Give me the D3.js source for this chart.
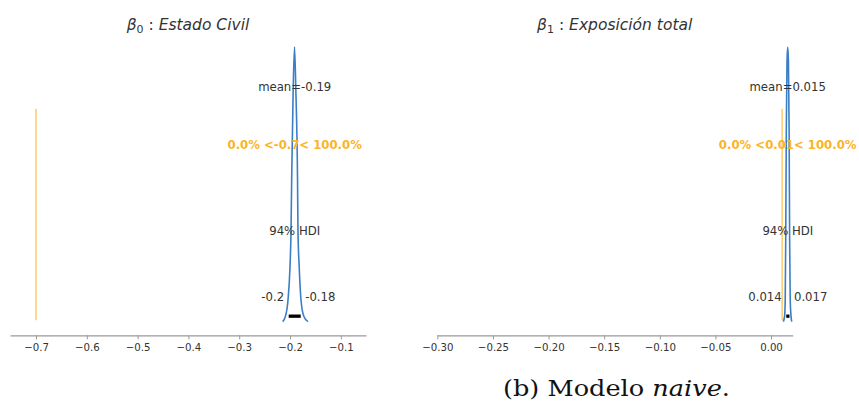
<!DOCTYPE html>
<html>
<head>
<meta charset="utf-8">
<script src="https://cdn.jsdelivr.net/npm/d3@7"></script>
<style>
  body { margin: 0; background: #fff; }
  svg { display: block; font-family: "DejaVu Sans", sans-serif; }
</style>
</head>
<body>
<svg id="chart" width="859" height="404"></svg>
<script>
// Panel titles (symbol, subscript, label)
const titleSymbols = ["β", "β"];
const titleSubs = ["0", "1"];
const titleLabels = ["Estado Civil", "Exposición total"];

// Posterior KDE for β0 (Estado Civil), density relative to its peak
const estadoX = [-0.2144, -0.2089, -0.2039, -0.2000, -0.1980, -0.1967, -0.1937, -0.1911,
                 -0.1886, -0.1852, -0.1843, -0.1819, -0.1784, -0.1728, -0.1646];
const estadoDensity = [0.0, 0.02, 0.08, 0.2, 0.33, 0.52, 0.85, 1.0,
                       0.85, 0.52, 0.33, 0.2, 0.08, 0.02, 0.0];

// Posterior KDE for β1 (Exposición total)
const exposX = [0.01106, 0.01223, 0.01277, 0.01322, 0.01376, 0.01439, 0.01502,
                0.01565, 0.01628, 0.01673, 0.01727, 0.01799, 0.01862];
const exposDensity = [0.0, 0.02, 0.08, 0.3, 0.7, 0.95, 1.0,
                      0.95, 0.7, 0.3, 0.08, 0.02, 0.0];

const meanValues = [-0.1907, 0.01500];
const meanLabels = ["mean=-0.19", "mean=0.015"];
const hdiLow = [-0.2026, 0.0137];
const hdiHigh = [-0.1789, 0.0166];
const hdiLowLabels = ["-0.2", "0.014"];
const hdiHighLabels = ["-0.18", "0.017"];
const refValues = [-0.7, 0.01];
const refLabels = ["0.0% <-0.7< 100.0%", "0.0% <0.01< 100.0%"];

const ticksLeft = [-0.7, -0.6, -0.5, -0.4, -0.3, -0.2, -0.1];
const ticksRight = [-0.30, -0.25, -0.20, -0.15, -0.10, -0.05, 0.00];
const xDomains = [[-0.7512, -0.0504], [-0.3006, 0.0195]];

const caption = ["(b) Modelo ", "naive", "."];

const blue = "#3c7ec6";
const orange = "#fbb425";
const textColor = "#333";

const svg = d3.select("#chart");

const panels = [
  { x: estadoX, d: estadoDensity, ticks: ticksLeft, fmt: d3.format(".1f"), left: 10 },
  { x: exposX, d: exposDensity, ticks: ticksRight, fmt: d3.format(".2f"), left: 436.7 },
];

const axW = 356, axTop = 33.3, axBottom = 335.4;

panels.forEach((p, i) => {
  const g = svg.append("g");
  const x = d3.scaleLinear(xDomains[i], [p.left, p.left + axW]);
  const maxD = d3.max(p.d);
  const y = d3.scaleLinear([-0.05 * maxD, 1.05 * maxD], [axBottom, axTop]);
  const plotHeight = 1.05 * maxD;
  const cx = p.left + axW / 2;

  // title
  const t = g.append("text")
    .attr("x", cx).attr("y", 29.5)
    .attr("text-anchor", "middle")
    .attr("font-size", 15.5)
    .attr("font-style", "italic")
    .attr("fill", textColor);
  t.append("tspan").text(titleSymbols[i]);
  t.append("tspan").attr("font-size", 11).attr("font-style", "normal").attr("dy", 3).text(titleSubs[i]);
  t.append("tspan").attr("dy", -3).attr("font-style", "normal").text(" :");
  t.append("tspan").text(" " + titleLabels[i]);

  // x axis
  const axis = g.append("g")
    .attr("transform", `translate(0,${axBottom})`)
    .call(d3.axisBottom(x).tickValues(p.ticks).tickFormat(p.fmt).tickSize(4).tickPadding(4).tickSizeOuter(0));
  axis.select(".domain").attr("stroke", "#9a9a9a").attr("stroke-width", 1.2);
  axis.selectAll(".tick line").attr("stroke", "#9a9a9a");
  axis.selectAll(".tick text")
    .attr("fill", textColor)
    .attr("font-size", 10.2)
    .attr("font-family", "DejaVu Sans");

  // reference line
  g.append("line")
    .attr("x1", x(refValues[i])).attr("x2", x(refValues[i]))
    .attr("y1", axBottom - 0.05 * (axBottom - axTop))
    .attr("y2", axBottom - 0.75 * (axBottom - axTop))
    .attr("stroke", orange).attr("stroke-width", 1.2).attr("opacity", 0.85);

  // density curve
  const line = d3.line()
    .x((d, j) => x(p.x[j]))
    .y(d => y(d))
    .curve(d3.curveMonotoneX);
  g.append("path")
    .attr("d", line(p.d))
    .attr("fill", "none")
    .attr("stroke", blue)
    .attr("stroke-width", 1.6);

  // HDI bar
  g.append("line")
    .attr("x1", x(hdiLow[i])).attr("x2", x(hdiHigh[i]))
    .attr("y1", y(plotHeight * 0.02 / 1.05)).attr("y2", y(plotHeight * 0.02 / 1.05))
    .attr("stroke", "#000").attr("stroke-width", 3.3);

  const fs = 11.7;
  g.append("text")
    .attr("x", x(meanValues[i])).attr("y", y(plotHeight * 0.8))
    .attr("text-anchor", "middle").attr("font-size", fs).attr("fill", textColor)
    .text(meanLabels[i]);

  g.append("text")
    .attr("x", x(meanValues[i])).attr("y", y(plotHeight * 0.6))
    .attr("text-anchor", "middle").attr("font-size", fs).attr("font-weight", "bold")
    .attr("fill", orange)
    .text(refLabels[i]);

  const hdiMid = (x(hdiLow[i]) + x(hdiHigh[i])) / 2;
  g.append("text")
    .attr("x", hdiMid).attr("y", y(plotHeight * 0.3))
    .attr("text-anchor", "middle").attr("font-size", fs).attr("fill", textColor)
    .text("94% HDI");

  g.append("text")
    .attr("x", x(hdiLow[i]) - 4.5).attr("y", y(plotHeight * 0.07))
    .attr("text-anchor", "end").attr("font-size", fs).attr("fill", textColor)
    .text(hdiLowLabels[i]);
  g.append("text")
    .attr("x", x(hdiHigh[i]) + 4.5).attr("y", y(plotHeight * 0.07))
    .attr("text-anchor", "start").attr("font-size", fs).attr("fill", textColor)
    .text(hdiHighLabels[i]);
});

// caption, stretched to the width of the LaTeX original
const cap = svg.append("text")
  .attr("x", 503).attr("y", 396)
  .attr("font-family", "DejaVu Serif")
  .attr("font-size", 22)
  .attr("textLength", 227)
  .attr("lengthAdjust", "spacingAndGlyphs")
  .attr("fill", "#111");
cap.append("tspan").text(caption[0]);
cap.append("tspan").attr("font-style", "italic").text(caption[1]);
cap.append("tspan").text(caption[2]);
</script>
</body>
</html>
